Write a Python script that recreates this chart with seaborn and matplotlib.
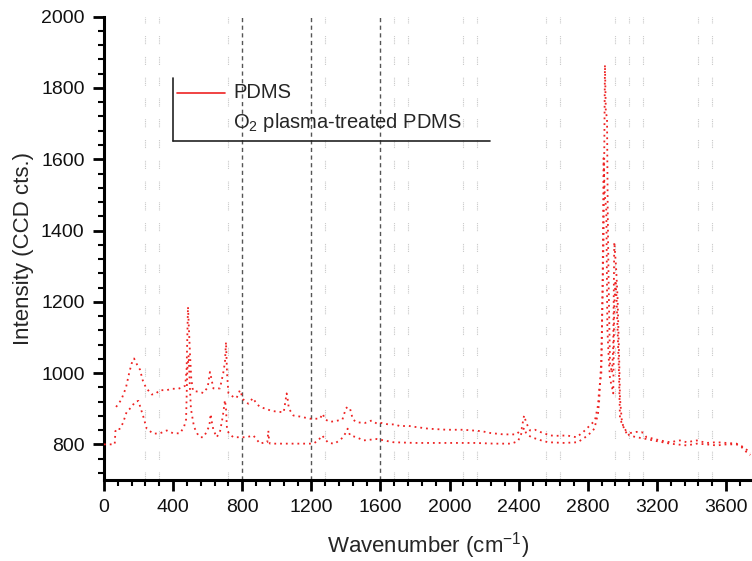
import matplotlib
matplotlib.use("Agg")
import matplotlib.pyplot as plt
from matplotlib.lines import Line2D
from matplotlib.ticker import MultipleLocator, FixedLocator
import seaborn as sns
import pandas as pd

# ---------------- data ----------------
wn_pdms = [0, 40, 62, 66, 75, 90, 110, 131, 160, 179, 199, 228, 247, 285, 324, 363, 401, 440,
           463, 475, 482, 490, 497, 503, 511, 521, 540, 556, 575, 594, 610, 617, 625, 633, 652,
           671, 687, 700, 706, 712, 725, 748, 787, 825, 864, 903, 932, 945, 951, 956, 961, 1019,
           1076, 1134, 1211, 1240, 1262, 1298, 1336, 1385, 1410, 1424, 1462, 1501, 1578, 1674,
           1800, 1915, 2030, 2146, 2261, 2357, 2396, 2415, 2431, 2444, 2473, 2531, 2569, 2665,
           2742, 2800, 2838, 2859, 2866, 2878, 2891, 2899, 2904, 2911, 2915, 2920, 2928, 2940,
           2947, 2953, 2963, 2972, 2982, 2986, 2996, 3005, 3025, 3040, 3082, 3140, 3179, 3275,
           3372, 3430, 3487, 3545, 3603, 3660, 3690, 3719, 3740]
int_pdms = [800, 800, 800, 837, 845, 843, 860, 891, 905, 919, 922, 877, 844, 830, 831, 839, 831, 831,
            849, 870, 1010, 1050, 960, 900, 877, 849, 830, 820, 820, 835, 853, 885, 860, 841, 820,
            835, 877, 924, 900, 840, 830, 820, 820, 820, 825, 802, 806, 806, 838, 806, 802, 802,
            802, 802, 802, 811, 825, 804, 802, 820, 844, 825, 820, 811, 815, 806,
            804, 804, 804, 804, 802, 802, 809, 830, 846, 830, 820, 811, 806, 804,
            806, 825, 844, 887, 924, 1041, 1373, 1865, 1733, 1716, 1457, 1261, 1028, 1000,
            1075, 1367, 1300, 1213, 1028, 929, 870, 850, 835, 825, 820, 815, 811, 802,
            797, 802, 800, 797, 800, 800, 792, 778, 770]

wn_o2 = [70, 100, 127, 147, 160, 174, 193, 208, 224, 243, 276, 295, 324, 363, 392, 430, 459, 470,
         478, 486, 492, 498, 505, 515, 556, 575, 600, 613, 619, 633, 671, 690, 700, 706, 712, 720,
         748, 767, 787, 806, 835, 862, 883, 903, 922, 970, 998, 1040, 1057, 1062, 1070, 1096, 1134,
         1192, 1250, 1265, 1280, 1307, 1346, 1380, 1400, 1410, 1424, 1440, 1462, 1510, 1549, 1580,
         1607, 1645, 1684, 1713, 1761, 1800, 1877, 1983, 2080, 2186, 2234, 2311, 2388, 2417, 2431,
         2444, 2465, 2494, 2523, 2581, 2619, 2677, 2735, 2774, 2812, 2841, 2859, 2866, 2878, 2885,
         2891, 2898, 2907, 2913, 2920, 2928, 2940, 2947, 2953, 2960, 2966, 2972, 2980, 2986, 2996,
         3005, 3025, 3082, 3111, 3140, 3179, 3218, 3275, 3333, 3372, 3430, 3487, 3545, 3603, 3660,
         3690, 3719, 3740]
int_o2 = [905, 925, 959, 1003, 1027, 1041, 1022, 1010, 980, 959, 940, 941, 952, 952, 956, 956, 961, 965,
          1010, 1186, 1120, 1050, 985, 950, 947, 944, 960, 1003, 990, 957, 957, 1000, 1031, 1087, 1000, 944,
          933, 930, 952, 926, 914, 930, 914, 905, 902, 894, 892, 890, 943, 930, 900, 881, 878,
          872, 872, 886, 870, 863, 866, 870, 901, 905, 900, 870, 862, 860, 867, 858,
          860, 856, 856, 851, 852, 849, 844, 841, 841, 837, 832, 828, 828, 844, 881,
          860, 839, 841, 835, 825, 824, 825, 820, 835, 853, 867, 910, 957, 1000, 1224,
          1603, 1500, 1457, 1126, 1050, 985, 960, 943, 1190, 1260, 1213, 1126, 1000, 873, 860,
          850, 830, 835, 835, 820, 816, 811, 806, 811, 806, 811, 804, 806, 804, 802,
          795, 785, 775]

series_names = ["PDMS", "O$_\\mathregular{2}$ plasma-treated PDMS"]
x_major = [0, 400, 800, 1200, 1600, 2000, 2400, 2800, 3200, 3600]
y_major = [800, 1000, 1200, 1400, 1600, 1800, 2000]
dark_grid = [800, 1200, 1600]
faint_grid = [240, 320, 720, 1280, 1680, 1760, 2080, 2160, 2560, 2640, 2960, 3040, 3120, 3440, 3520]

df = pd.concat([
    pd.DataFrame({"wn": wn_pdms, "I": int_pdms, "sample": series_names[0]}),
    pd.DataFrame({"wn": wn_o2, "I": int_o2, "sample": series_names[1]}),
])

# ---------------- style ----------------
sns.set_theme(style="white")
plt.rcParams["font.family"] = ["Liberation Sans", "DejaVu Sans"]
plt.rcParams["mathtext.fontset"] = "custom"
plt.rcParams["mathtext.rm"] = "Liberation Sans"
plt.rcParams["mathtext.it"] = "Liberation Sans:italic"
plt.rcParams["axes.unicode_minus"] = False

fig = plt.figure(figsize=(7.52, 5.61), dpi=100)
W, H = 752, 561
ax = fig.add_axes([104 / W, 1 - 480 / H, (W - 104) / W, (480 - 16.7) / H])

red = "#ee2222"
sns.lineplot(data=df, x="wn", y="I", hue="sample", palette=[red, red], sort=False,
             estimator=None, legend=False, ax=ax, linewidth=1.3, zorder=3)
for ln in ax.lines:
    ln.set_dashes([1.0, 2.2])

for g in dark_grid:
    ax.axvline(g, color="#555555", lw=1.0, ls=(0, (3, 2.5)), zorder=1)
for g in faint_grid:
    ax.axvline(g, color="#c4c4c4", lw=0.8,
               ls=(0, (0.8, 0.8, 0.8, 0.8, 0.8, 0.8, 0.8, 0.8, 0.8, 11.5)), zorder=1)

ax.set_xlim(0, 3750)
ax.set_ylim(700, 2000)
ax.xaxis.set_major_locator(FixedLocator(x_major))
ax.xaxis.set_minor_locator(MultipleLocator(80))
ax.yaxis.set_major_locator(FixedLocator(y_major))
ax.yaxis.set_minor_locator(MultipleLocator(40))

for side in ["top", "right"]:
    ax.spines[side].set_visible(False)
for side in ["left", "bottom"]:
    ax.spines[side].set_linewidth(2.2)
    ax.spines[side].set_color("black")

ax.tick_params(which="major", direction="out", length=8, width=2, color="black",
               labelsize=14, pad=6, bottom=True, left=True, labelcolor="#111111")
ax.tick_params(which="minor", direction="out", length=4, width=1.5, color="black",
               bottom=True, left=True)

ax.set_xlabel("Wavenumber (cm$^{\\mathregular{-1}}$)", fontsize=16, labelpad=10)
ax.set_ylabel("Intensity (CCD cts.)", fontsize=16, labelpad=5)

# ---------------- legend (custom, open frame) ----------------
def fx(px):
    return px / W

def fy(py):
    return 1 - py / H

fig.add_artist(Line2D([fx(173), fx(173)], [fy(78), fy(141)], color="#222222", lw=1.2))
fig.add_artist(Line2D([fx(173), fx(490)], [fy(141), fy(141)], color="#222222", lw=1.2))
fig.add_artist(Line2D([fx(177), fx(225)], [fy(93), fy(93)], color=red, lw=1.2))
fig.text(fx(233), fy(93), series_names[0], fontsize=14.5, va="center", ha="left")
fig.text(fx(233), fy(123), series_names[1], fontsize=14.5, va="center", ha="left")

fig.savefig("out.png", dpi=100)
